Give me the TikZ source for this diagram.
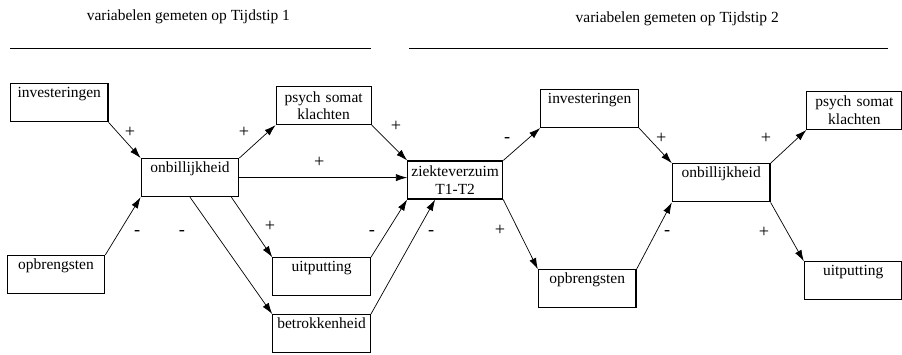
\documentclass[tikz,border=0pt]{standalone}
\usepackage{fontspec}
\setmainfont{Liberation Serif}
\usepackage{tikz}
\usetikzlibrary{arrows.meta}
\tikzset{
	box/.style={draw, line width=0.8pt, minimum width=2.375cm, minimum height=0.95cm, text width=2.3cm, align=center, inner sep=1pt},
	onebox/.style={box, inner sep=2pt, text height=0.28cm, text depth=0.53cm},
	arr/.style={-{Latex[length=2.8mm,width=1.8mm]}, line width=0.5pt},
	sign/.style={inner sep=1pt, font=\fontsize{13}{14}\selectfont}
}

\begin{document}
\begin{tikzpicture}[font=\fontsize{11}{12.5}\selectfont]
		%%%%% START %%%%%
		\useasboundingbox (0, 0) rectangle (22.55, 8.85);
		
		\node (head1) at (4.71, 8.43) {variabelen gemeten op Tijdstip 1};
		\node (head2) at (16.93, 8.38) {variabelen gemeten op Tijdstip 2};
		\draw[line width=0.7pt] (0.25, 7.65) -- (9.28, 7.65);
		\draw[line width=0.7pt] (10.23, 7.63) -- (22.2, 7.63);
		
		% tijdstip 1
		\node[onebox] (inv1) at (1.48, 6.28) {investeringen};
		\node[onebox] (opb1) at (1.4, 1.99) {opbrengsten};
		\node[onebox] (onb1) at (4.75, 4.41) {onbillijkheid};
		\node[box] (psych1) at (8.09, 6.21) {psych somat\\klachten};
		\node[onebox] (uit1) at (8.04, 1.93) {uitputting};
		\node[onebox] (betr) at (8.04, 0.51) {betrokkenheid};
		\node[box] (ziek) at (11.38, 4.35) {ziekteverzuim\\T1-T2};
		
		% tijdstip 2
		\node[onebox] (inv2) at (14.74, 6.14) {investeringen};
		\node[onebox] (opb2) at (14.68, 1.63) {opbrengsten};
		\node[onebox] (onb2) at (18.03, 4.28) {onbillijkheid};
		\node[box] (psych2) at (21.36, 6.09) {psych somat\\klachten};
		\node[onebox] (uit2) at (21.33, 1.83) {uitputting};
		
		\draw[arr] (inv1.south east) -- (onb1.north west);
		\draw[arr] (opb1.north east) -- (onb1.south west);
		\draw[arr] (onb1.north east) -- (psych1.south west);
		\draw[arr] (onb1.east) -- (onb1.east -| ziek.west);
		\draw[arr] ([xshift=-0.2cm]onb1.south east) -- (uit1.north west);
		\draw[arr] (onb1.south) -- (betr.north west);
		\draw[arr] (psych1.south east) -- (ziek.north west);
		\draw[arr] (uit1.north east) -- (ziek.south west);
		\draw[arr] (betr.north east) -- ([xshift=0.7cm]ziek.south west);
		\draw[arr] (ziek.north east) -- (inv2.south west);
		\draw[arr] (ziek.south east) -- (opb2.north west);
		\draw[arr] (inv2.south east) -- (onb2.north west);
		\draw[arr] (opb2.north east) -- (onb2.south west);
		\draw[arr] (onb2.north east) -- (psych2.south west);
		\draw[arr] (onb2.south east) -- (uit2.north west);
		
		\node[sign] (s1) at (3.25, 5.55) {+};
		\node[sign] (s2) at (3.43, 3.03) {-};
		\node[sign] (s3) at (6.1, 5.53) {+};
		\node[sign] (s4) at (7.98, 4.78) {+};
		\node[sign] (s5) at (6.75, 3.2) {+};
		\node[sign] (s6) at (4.55, 3.03) {-};
		\node[sign] (s7) at (9.9, 5.7) {+};
		\node[sign] (s8) at (9.3, 3.03) {-};
		\node[sign] (s9) at (10.78, 3.03) {-};
		\node[sign] (s10) at (12.68, 5.35) {-};
		\node[sign] (s11) at (12.5, 3.08) {+};
		\node[sign] (s12) at (16.53, 5.4) {+};
		\node[sign] (s13) at (16.68, 3.03) {-};
		\node[sign] (s14) at (19.15, 5.38) {+};
		\node[sign] (s15) at (19.1, 3.05) {+};
		%%%%% END %%%%%
	\end{tikzpicture}
\end{document}
